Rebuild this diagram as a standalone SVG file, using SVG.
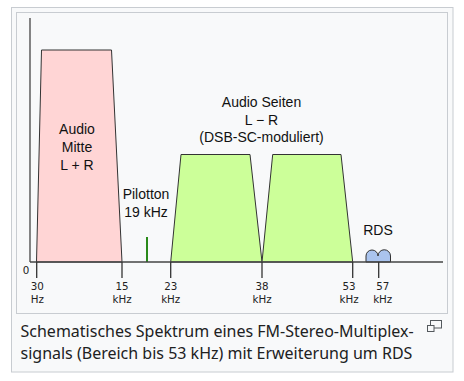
<svg xmlns="http://www.w3.org/2000/svg" width="464" height="381" viewBox="0 0 464 381">
<style>
.lbl{font-family:"Liberation Sans",Arial,sans-serif;font-size:14px;fill:#111;text-anchor:middle}
.tick{font-family:"DejaVu Sans",sans-serif;font-size:10.3px;fill:#222;text-anchor:middle}
.band{stroke:#333;stroke-width:1}
.ax{stroke:#444;stroke-width:1.3;fill:none}
.cap{font-family:"Noto Sans","Open Sans",sans-serif;font-size:16px;fill:#202122}
</style>
<rect x="0" y="0" width="464" height="381" fill="#fff"/>
<rect x="11.5" y="7.5" width="441.5" height="364.5" fill="#f8f9fa" stroke="#c8ccd1"/>
<rect x="16.5" y="12.5" width="431" height="301" fill="#f8f9fa" stroke="#c8ccd1"/>
<g id="mitte">
<polygon class="band" points="36.5,262 41.5,50 111.5,50 122,262" fill="#ffd5d5"/>
<text class="lbl" x="77" y="134">Audio</text>
<text class="lbl" x="77" y="152">Mitte</text>
<text class="lbl" x="77" y="170">L + R</text>
</g>
<g id="seiten">
<polygon class="band" points="170.7,262 181,154.5 250,154.5 262,262" fill="#ccff99"/>
<polygon class="band" points="262,262 272.7,154.5 341,154.5 352.7,262" fill="#ccff99"/>
<text class="lbl" x="261.5" y="107">Audio Seiten</text>
<text class="lbl" x="261.5" y="125">L − R</text>
<text class="lbl" x="261.5" y="142">(DSB-SC-moduliert)</text>
</g>
<g id="pilot">
<line x1="147" y1="237" x2="147" y2="262" stroke="#2a8a1a" stroke-width="2"/>
<text class="lbl" x="146" y="199">Pilotton</text>
<text class="lbl" x="146" y="217">19 kHz</text>
</g>
<g id="rds">
<path class="band" d="M366,262 V256 A6,6 0 0 1 378,256 A6,6 0 0 1 390.5,256 V262 Z" fill="#aac4ee"/>
<text class="lbl" x="378" y="235">RDS</text>
</g>
<g id="axes">
<line class="ax" x1="30" y1="18" x2="30" y2="262"/>
<line class="ax" x1="30" y1="262" x2="443" y2="262"/>
<g stroke="#333" stroke-width="1.3">
<line x1="36.7" y1="262" x2="36.7" y2="278"/>
<line x1="122" y1="262" x2="122" y2="278"/>
<line x1="170.7" y1="262" x2="170.7" y2="278"/>
<line x1="262" y1="262" x2="262" y2="278"/>
<line x1="352.7" y1="262" x2="352.7" y2="278"/>
<line x1="378.7" y1="262" x2="378.7" y2="278"/>
</g>
</g>
<g id="ticklabels">
<text class="tick" x="26" y="273.5">0</text>
<text class="tick" x="37.3" y="290">30</text><text class="tick" x="37.3" y="303">Hz</text>
<text class="tick" x="122" y="290">15</text><text class="tick" x="122" y="303">kHz</text>
<text class="tick" x="170.7" y="290">23</text><text class="tick" x="170.7" y="303">kHz</text>
<text class="tick" x="262" y="290">38</text><text class="tick" x="262" y="303">kHz</text>
<text class="tick" x="349" y="290">53</text><text class="tick" x="349" y="303">kHz</text>
<text class="tick" x="382.7" y="290">57</text><text class="tick" x="382.7" y="303">kHz</text>
</g>
<g id="caption">
<text class="cap" x="20.5" y="337">Schematisches Spektrum eines FM-Stereo-Multiplex-</text>
<text class="cap" x="20.5" y="359">signals (Bereich bis 53 kHz) mit Erweiterung um RDS</text>
<rect x="430.5" y="320.5" width="11" height="7.5" fill="none" stroke="#54595d"/>
<rect x="427.5" y="325.5" width="6.5" height="6" fill="#f8f9fa" stroke="#54595d"/>
</g>
</svg>
